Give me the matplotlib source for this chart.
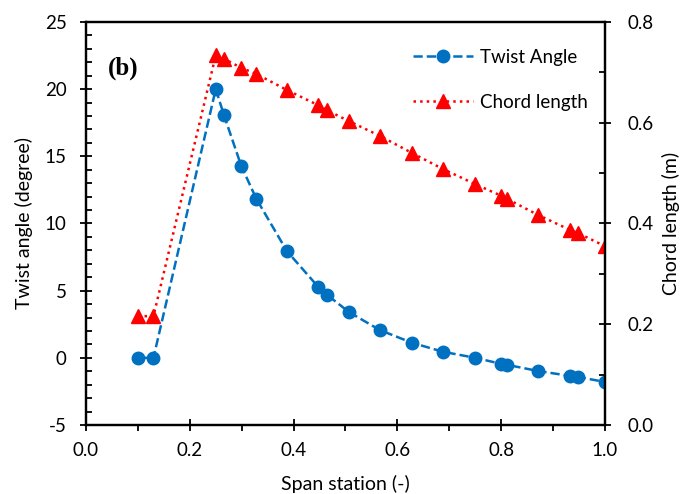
import numpy as np
from matplotlib import pyplot as plt
from matplotlib.ticker import MultipleLocator

# span station (-)
span = [0.10, 0.13, 0.25, 0.266, 0.299, 0.328, 0.387, 0.447, 0.464, 0.507,
        0.566, 0.628, 0.688, 0.750, 0.800, 0.811, 0.871, 0.933, 0.948, 1.0]
# twist angle (degree)
twist = [0.0, 0.0, 20.0, 18.05, 14.3, 11.85, 7.95, 5.3, 4.7, 3.4,
         2.07, 1.12, 0.45, 0.0, -0.45, -0.52, -0.98, -1.35, -1.42, -1.8]
# chord length (m)
chord = [0.216, 0.216, 0.734, 0.727, 0.709, 0.697, 0.665, 0.635, 0.625, 0.603,
         0.574, 0.540, 0.508, 0.478, 0.455, 0.449, 0.417, 0.387, 0.381, 0.355]

blue = '#0070C0'
red = '#FF0000'
font = ['Lato', 'DejaVu Sans']

plt.rcParams['font.family'] = font
plt.rcParams['axes.unicode_minus'] = False

fig = plt.figure(figsize=(6.83, 4.94), dpi=100)
ax1 = fig.add_axes([0.1259, 0.1397, 0.7599, 0.8158])
ax2 = ax1.twinx()

l1, = ax1.plot(span, twist, color=blue, linestyle='--', linewidth=1.8,
               marker='o', markersize=9, label='Twist Angle')
l2, = ax2.plot(span, chord, color=red, linestyle=':', linewidth=1.8,
               marker='^', markersize=10, label='Chord length')

ax1.set_xlim(0.0, 1.0)
ax1.set_ylim(-5, 25)
ax2.set_ylim(0.0, 0.8)

ax1.xaxis.set_major_locator(MultipleLocator(0.2))
ax1.xaxis.set_minor_locator(MultipleLocator(0.1))
ax1.yaxis.set_major_locator(MultipleLocator(5))
ax1.yaxis.set_minor_locator(MultipleLocator(1))
ax2.yaxis.set_major_locator(MultipleLocator(0.2))
ax2.yaxis.set_minor_locator(MultipleLocator(0.1))

ax1.xaxis.set_major_formatter(lambda v, p: '%.1f' % v)
ax2.yaxis.set_major_formatter(lambda v, p: '%.1f' % v)

ax1.tick_params(axis='x', which='major', direction='inout', length=8, width=1.3,
                labelsize=13.5, pad=8)
ax1.tick_params(axis='x', which='minor', direction='out', length=4, width=1.3)
ax1.tick_params(axis='y', which='major', direction='inout', length=8, width=1.3,
                labelsize=13.5, pad=10)
ax1.tick_params(axis='y', which='minor', direction='in', length=4, width=1.3)
ax2.tick_params(axis='y', which='major', direction='inout', length=8, width=1.3,
                labelsize=13.5, pad=12)
ax2.tick_params(axis='y', which='minor', direction='in', length=4, width=1.3)

for ax in (ax1, ax2):
    for s in ax.spines.values():
        s.set_linewidth(1.6)

ax1.set_xlabel('Span station (-)', fontsize=14, labelpad=12)
ax1.set_ylabel('Twist angle (degree)', fontsize=14, labelpad=8)
ax2.set_ylabel('Chord length (m)', fontsize=14, labelpad=6)

ax1.text(0.042, 0.885, '(b)', transform=ax1.transAxes, fontsize=18,
         fontweight='bold', family=['Liberation Serif', 'DejaVu Serif'],
         ha='left', va='center')

ax1.legend(handles=[l1, l2], loc='upper right', frameon=False, fontsize=13.5,
           labelspacing=1.5, handlelength=3.2, handletextpad=0.4,
           bbox_to_anchor=(1.0, 0.975))

fig.savefig('out.png', dpi=100)
